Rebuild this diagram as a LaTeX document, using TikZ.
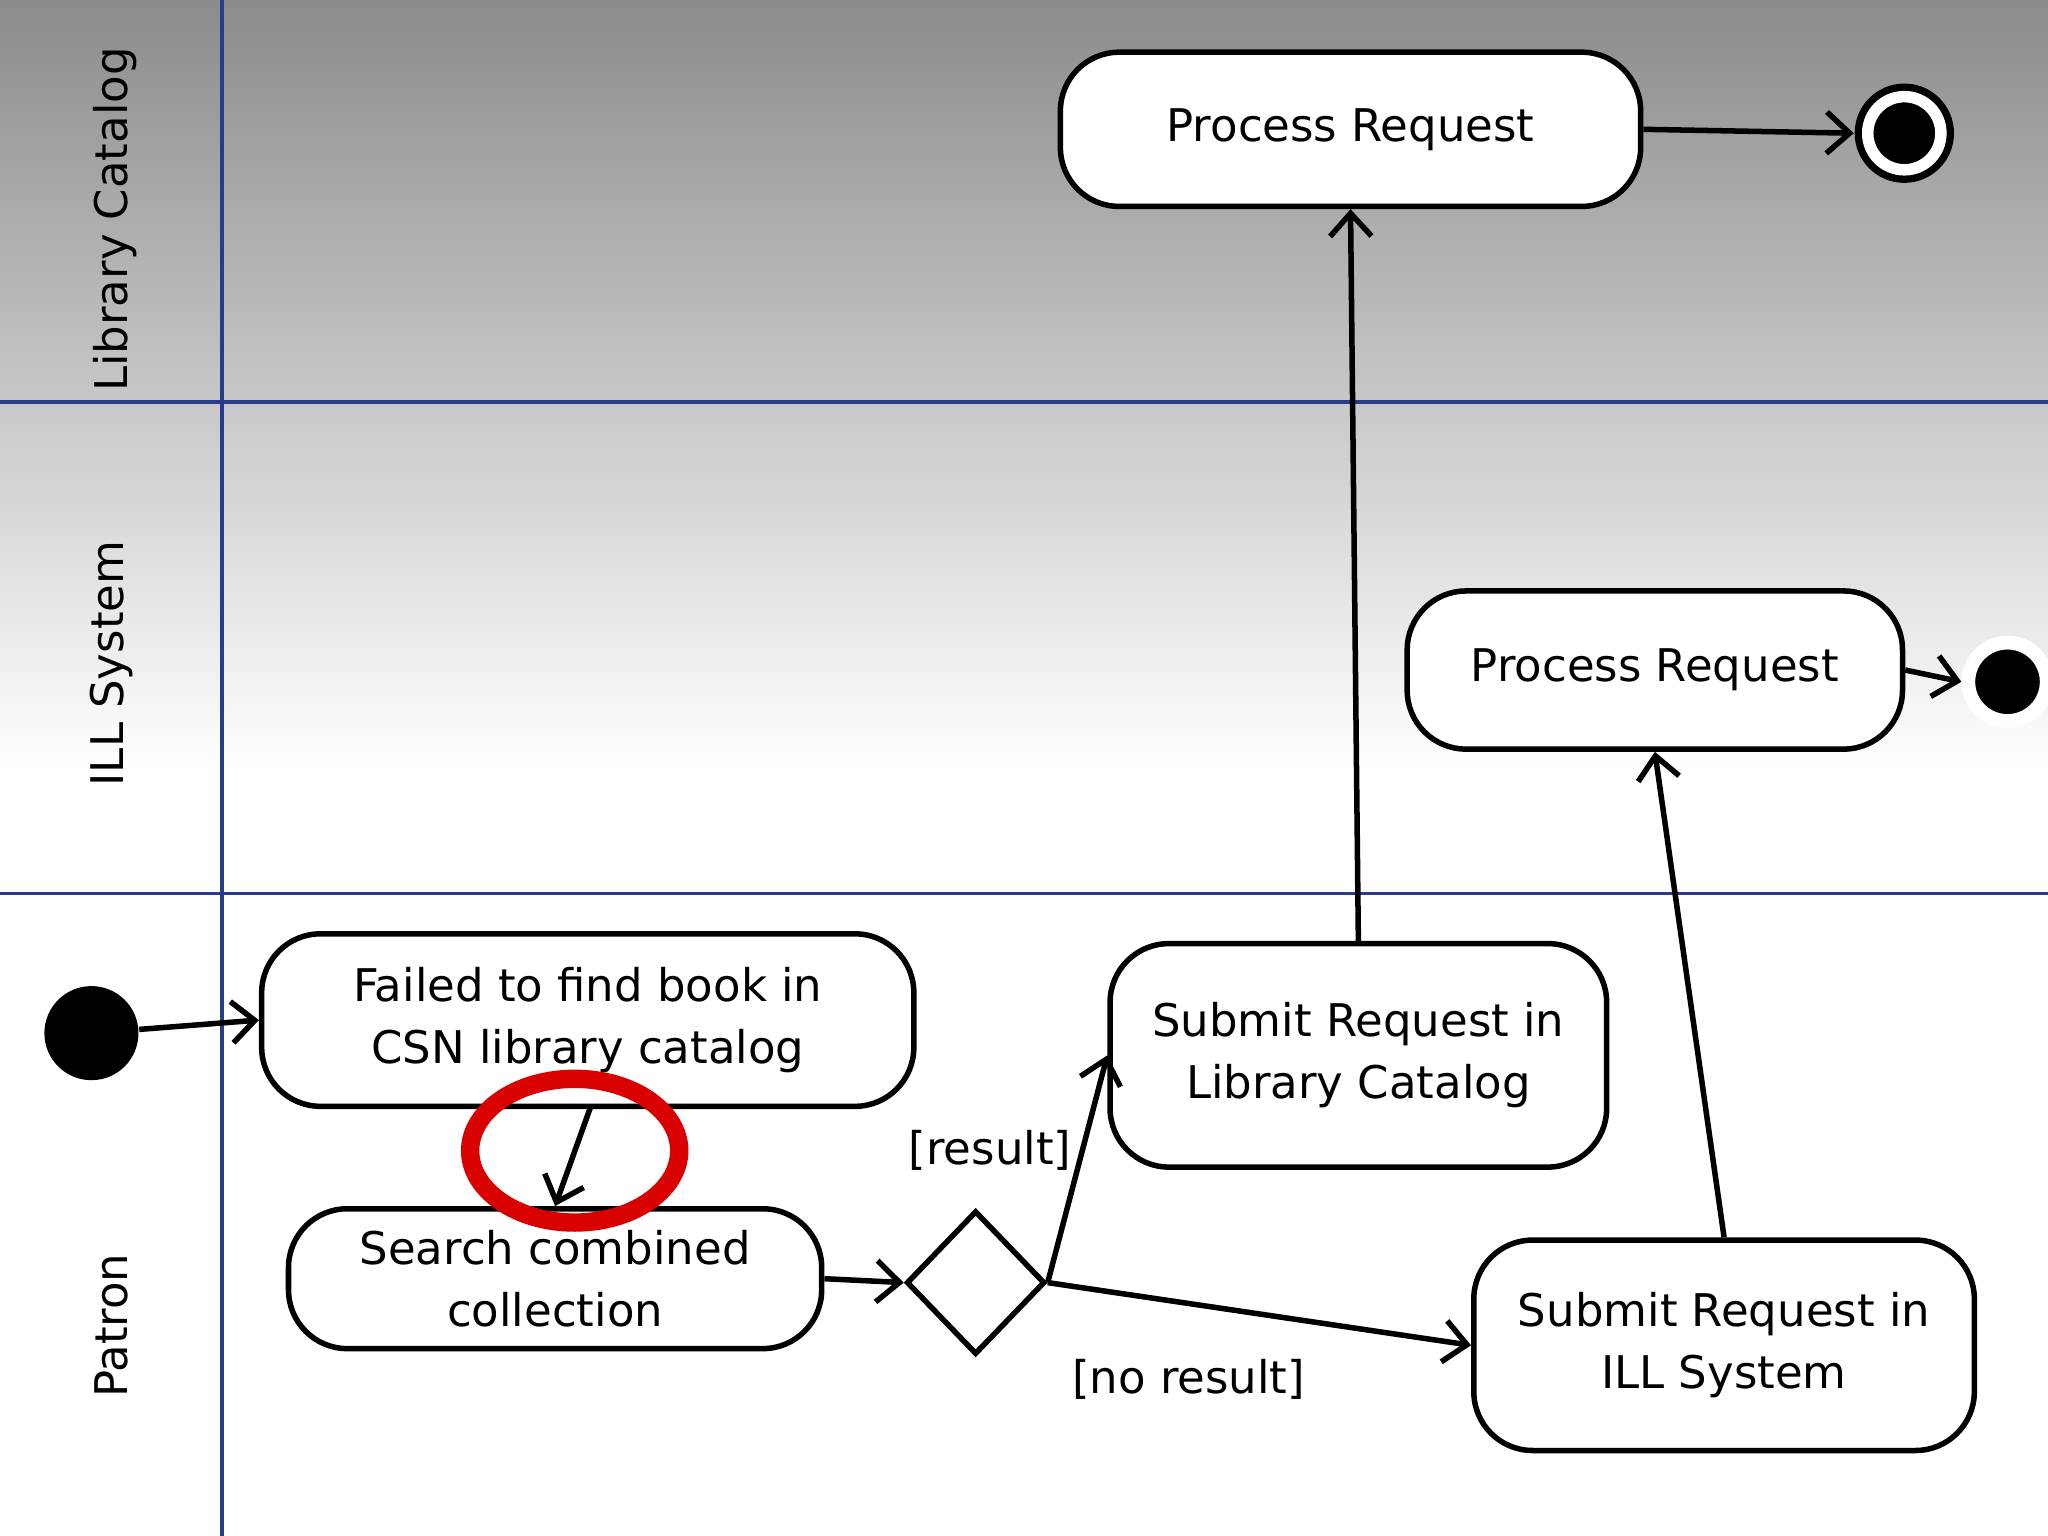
\documentclass[tikz,border=0pt]{standalone}
\usepackage{fontspec}
\setmainfont{DejaVu Sans}
\usetikzlibrary{arrows.meta,shapes.geometric}
\definecolor{skyb}{RGB}{140,198,242}
\definecolor{lanec}{RGB}{40,60,140}
\begin{document}
\begin{tikzpicture}[x=0.01cm,y=-0.01cm,
  box/.style={draw,line width=1.2pt,rounded corners=0.45cm,fill=white,align=center,font=\fontsize{9.8}{13.5}\selectfont,inner sep=0},
  arr/.style={line width=1.2pt,-{Straight Barb[length=5pt,width=9pt]}},
  lane/.style={draw=lanec,line width=0.8pt},
  lbl/.style={font=\fontsize{9.8}{13}\selectfont}]
\useasboundingbox (0,0) rectangle (1568,1176);
\shade[inner color=white,outer color=skyb,middle color=white] (-100,-60) rectangle (1668,1236);
\draw[lane] (170,0) -- (170,1176);
\draw[lane] (0,308) -- (1568,308);
\draw[lane] (0,684) -- (1568,684);
\node[lbl,rotate=90] (l1) at (88,168) {Library Catalog};
\node[lbl,rotate=90] (l2) at (85,508) {ILL System};
\node[lbl,rotate=90] (l3) at (85,1015) {Patron};
\node[box,minimum width=4.44cm,minimum height=1.18cm] (pr1) at (1034,99) {Process Request};
\node[box,minimum width=3.79cm,minimum height=1.21cm] (pr2) at (1267,513) {Process Request};
\node[box,minimum width=4.99cm,minimum height=1.32cm] (fail) at (450,781) {Failed to find book in\\CSN library catalog};
\node[box,minimum width=4.08cm,minimum height=1.07cm] (search) at (425,979) {Search combined\\collection};
\node[box,minimum width=3.80cm,minimum height=1.71cm] (slc) at (1040,808) {Submit Request in\\Library Catalog};
\node[box,minimum width=3.83cm,minimum height=1.61cm] (sill) at (1320,1030) {Submit Request in\\ILL System};
\node[draw,diamond,fill=white,line width=1.2pt,minimum width=1.06cm,minimum height=1.10cm,inner sep=0] (dec) at (747,982) {};
\node[circle,fill=black,minimum size=0.72cm,inner sep=0] (start) at (70,791) {};
\node[circle,fill=black,draw=white,line width=3pt,minimum size=0.60cm,inner sep=0] (f2) at (1537,522) {};
\node[circle,fill=black,minimum size=0.76cm,inner sep=0] (f1o) at (1458,102) {};
\node[circle,fill=black,draw=white,line width=2.5pt,minimum size=0.56cm,inner sep=0] (f1) at (1458,102) {};
\node[lbl] (res) at (758,881) {[result]};
\node[lbl] (nores) at (910,1056) {[no result]};
\draw[red!85!black,line width=4pt] (440,881) ellipse (0.80cm and 0.55cm);
\draw[arr] (start) -- (fail.west);
\draw[arr] (452,848) -- (search.north);
\draw[arr] (search.east) -- (dec.west);
\draw[arr] (dec.east) -- (slc.west);
\draw[arr] (dec.east) -- (sill.west);
\draw[arr] (slc.north) -- (pr1.south);
\draw[arr] (sill.north) -- (pr2.south);
\draw[arr] (pr1.east) -- (f1o.west);
\draw[arr] (pr2.east) -- (f2.west);
\end{tikzpicture}
\end{document}
